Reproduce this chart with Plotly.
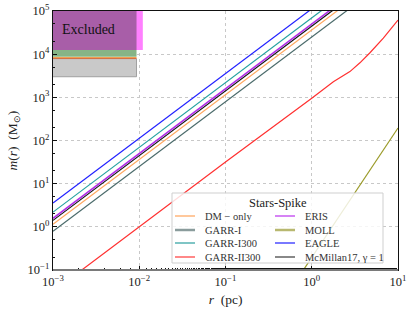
import plotly.graph_objects as go

# ---------------- data ----------------
names = ["DM − only", "GARR-I", "GARR-I300", "GARR-II300", "ERIS", "MOLL", "EAGLE", "McMillan17, γ = 1"]
colors = ["#ffa860", "#4a6a6a", "#22a0a0", "#ff3030", "#b030e8", "#9a9a28", "#2020ff", "#111111"]
legend_colors = ["#ffaa66", "#8a9c9c", "#3aa6a6", "#ff6060", "#c040f0", "#b8b870", "#3030ff", "#606060"]
legend_widths = [1.3, 2.5, 1.3, 1.5, 1.3, 2.5, 1.3, 1.5]

# straight power-law profiles (two end points each)
r_pl = [1e-3, 10.0]
m_dm = [1.15, 1.15e6]
m_garr1 = [0.79, 7.9e5]
m_garr1300 = [2.19, 2.19e6]
m_eris = [1.58, 1.58e6]
m_eagle = [3.55, 3.55e6]
m_mcm = [1.41, 1.41e6]

# GARR-II300 profile
r_g2 = [1e-3, 1e-2, 1e-1, 1.0, 1.78, 2.77, 3.62, 4.73, 6.76, 10.0]
m_g2 = [0.0316, 1.0, 31.6, 950, 2290, 3940, 6310, 10800, 23400, 61700]

# MOLL profile
r_moll = [0.5, 10.0]
m_moll = [0.0244, 195]

# Excluded regions
excl_rmax = [0.0093, 0.0093, 0.0093, 0.0110]
excl_mmin = [3000, 8700, 12500, 12500]
excl_mmax = [7800, 12500, 1e5, 1e5]
excl_cols = ["#c9c9c9", "#86b486", "#a85ea8", "#ff80ff"]

xtick_vals = [1e-3, 1e-2, 1e-1, 1, 10]
xtick_text = ["10<sup>−3</sup>", "10<sup>−2</sup>", "10<sup>−1</sup>", "10<sup>0</sup>", "10<sup>1</sup>"]
ytick_vals = [1e-1, 1, 10, 100, 1e3, 1e4, 1e5]
ytick_text = ["10<sup>−1</sup>", "10<sup>0</sup>", "10<sup>1</sup>", "10<sup>2</sup>", "10<sup>3</sup>",
              "10<sup>4</sup>", "10<sup>5</sup>"]

FONT = "Liberation Serif"

fig = go.Figure()

# excluded fills (pink strip first, then the rest over it)
for i in [3, 0, 1, 2]:
    x0, x1 = 1e-3, excl_rmax[i]
    y0, y1 = excl_mmin[i], excl_mmax[i]
    fig.add_trace(go.Scatter(x=[x0, x1, x1, x0, x0], y=[y0, y0, y1, y1, y0], mode="lines",
                             fill="toself", fillcolor=excl_cols[i], line=dict(width=0),
                             showlegend=False, hoverinfo="skip"))
fig.add_trace(go.Scatter(x=[1e-3, excl_rmax[0], excl_rmax[0]], y=[excl_mmin[0], excl_mmin[0], excl_mmax[0]],
                         mode="lines", line=dict(color="#a0a0a0", width=1), showlegend=False, hoverinfo="skip"))
fig.add_trace(go.Scatter(x=[1e-3, excl_rmax[0]], y=[8300, 8300], mode="lines",
                         line=dict(color="#f0a050", width=1.5), showlegend=False, hoverinfo="skip"))
fig.add_trace(go.Scatter(x=[1e-3, excl_rmax[0]], y=[7900, 7900], mode="lines",
                         line=dict(color="#d06a40", width=1), showlegend=False, hoverinfo="skip"))

series = {
    "DM − only": (r_pl, m_dm),
    "GARR-I": (r_pl, m_garr1),
    "GARR-I300": (r_pl, m_garr1300),
    "GARR-II300": (r_g2, m_g2),
    "ERIS": (r_pl, m_eris),
    "MOLL": (r_moll, m_moll),
    "EAGLE": (r_pl, m_eagle),
    "McMillan17, γ = 1": (r_pl, m_mcm),
}

draw_order = ["GARR-I", "DM − only", "McMillan17, γ = 1", "ERIS", "GARR-I300", "EAGLE", "GARR-II300", "MOLL"]
for n in draw_order:
    i = names.index(n)
    x, y = series[n]
    w = 1.6 if n == "ERIS" else 1.2
    fig.add_trace(go.Scatter(x=x, y=y, mode="lines", line=dict(color=colors[i], width=w),
                             showlegend=False, hoverinfo="skip"))

fig.add_annotation(x=-2.59, y=4.58, xref="x", yref="y", text="Excluded", showarrow=False,
                   font=dict(family=FONT, size=14, color="#111"))

# gray bottom line
fig.add_shape(type="line", xref="paper", yref="paper", x0=0, x1=1, y0=0, y1=0,
              line=dict(color="#7a7a7a", width=2.2), layer="above")

# ---------- custom legend (two columns) ----------
W, H, L, B = 345.0, 259.0, 53.0, 270.0
def px(x): return (x - L) / W
def py(y): return (B - y) / H

fig.add_shape(type="rect", xref="paper", yref="paper", x0=px(172), x1=px(383), y0=py(263), y1=py(193),
              fillcolor="rgba(255,255,255,0.82)", line=dict(color="#cfcfcf", width=1), layer="above")
fig.add_annotation(xref="paper", yref="paper", x=px(277.5), y=py(203), text="Stars-Spike", showarrow=False,
                   font=dict(family=FONT, size=12.5, color="#222"), xanchor="center", yanchor="middle")
row_y = [216, 230, 243, 257]
col_x = [175, 275]
for k, n in enumerate(names):
    col, row = divmod(k, 4)
    x0 = col_x[col]
    yy = py(row_y[row])
    fig.add_shape(type="line", xref="paper", yref="paper", x0=px(x0), x1=px(x0 + 20), y0=yy, y1=yy,
                  line=dict(color=legend_colors[k], width=legend_widths[k]), layer="above")
    fig.add_annotation(xref="paper", yref="paper", x=px(x0 + 28), y=yy, text=n, showarrow=False,
                       xanchor="left", yanchor="middle", font=dict(family=FONT, size=10.5, color="#333"))

axis_common = dict(type="log", showline=True, linecolor="#111", linewidth=1.2, mirror=True,
                   ticks="inside", ticklen=4, tickcolor="#111", showgrid=True, gridcolor="#c8c8c8",
                   griddash="dot", gridwidth=1, zeroline=False, automargin=False,
                   tickfont=dict(family=FONT, size=12.5, color="#222"),
                   minor=dict(ticks="inside", ticklen=2, tickcolor="#111", showgrid=False))

fig.update_xaxes(range=[-3, 1], tickvals=xtick_vals, ticktext=xtick_text,
                 title=dict(text="<i>r</i>  (pc)", font=dict(family=FONT, size=13.5, color="#222"), standoff=6),
                 **axis_common)
fig.update_yaxes(range=[-1, 5], tickvals=ytick_vals, ticktext=ytick_text,
                 title=dict(text="<i>m</i>(<i>r</i>)  (M<sub>⊙</sub>)", font=dict(family=FONT, size=13.5, color="#222"), standoff=6),
                 **axis_common)

fig.update_layout(
    width=413, height=312,
    margin=dict(l=53, r=15, t=11, b=42),
    paper_bgcolor="white", plot_bgcolor="white",
    showlegend=False,
)

fig.write_html("out.html", config={"displayModeBar": False},
               post_script="document.body.style.margin='0px';document.body.style.padding='0px';")
